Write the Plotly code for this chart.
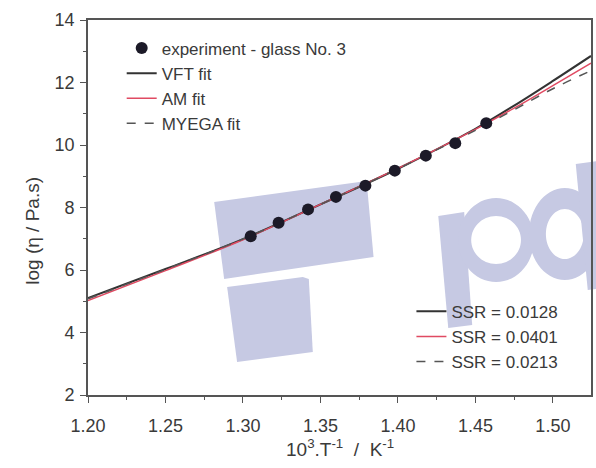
import plotly.graph_objects as go
import numpy as np

# ---------------- data ----------------
exp_x = [1.305, 1.323, 1.342, 1.360, 1.379, 1.398, 1.418, 1.437, 1.457]
exp_y = [7.08, 7.51, 7.94, 8.34, 8.70, 9.18, 9.66, 10.06, 10.70]

fit_x = [1.20, 1.25, 1.30, 1.35, 1.40, 1.45, 1.475, 1.50, 1.5246]
vft_y = [5.10, 6.03, 6.99, 8.10, 9.24, 10.52, 11.26, 12.05, 12.85]
am_y = [5.02, 5.98, 6.97, 8.10, 9.25, 10.50, 11.18, 11.90, 12.62]
myega_y = [5.08, 6.02, 6.99, 8.10, 9.24, 10.47, 11.13, 11.80, 12.38]

ssr_labels = ["SSR = 0.0128", "SSR = 0.0401", "SSR = 0.0213"]
x_ticks = [1.20, 1.25, 1.30, 1.35, 1.40, 1.45, 1.50]
x_ticktext = ["1.20", "1.25", "1.30", "1.35", "1.40", "1.45", "1.50"]
y_ticks = [2, 4, 6, 8, 10, 12, 14]

# ---------------- styles ----------------
FONT = "Liberation Sans, Arial, sans-serif"
TXT = "#3a3a3a"
AX = "#555555"
C_VFT = "#333333"
C_AM = "#e04a62"
C_MY = "#555555"
WM = "#c6c9e3"

fig = go.Figure()

fig.add_trace(go.Scatter(x=fit_x, y=vft_y, mode="lines", name="VFT fit",
                         line=dict(color=C_VFT, width=2, shape="spline"),
                         legend="legend", legendrank=2))
fig.add_trace(go.Scatter(x=fit_x, y=am_y, mode="lines", name="AM fit",
                         line=dict(color=C_AM, width=1.5, shape="spline"),
                         legend="legend", legendrank=3))
fig.add_trace(go.Scatter(x=fit_x, y=myega_y, mode="lines", name="MYEGA fit",
                         line=dict(color=C_MY, width=1.5, dash="dash", shape="spline"),
                         legend="legend", legendrank=4))
fig.add_trace(go.Scatter(x=exp_x, y=exp_y, mode="markers",
                         name="experiment - glass No. 3",
                         marker=dict(color="#1c1a28", size=12),
                         legend="legend", legendrank=1))

# SSR legend entries
for lab, col, dash in zip(ssr_labels, [C_VFT, C_AM, C_MY], ["solid", "solid", "dash"]):
    fig.add_trace(go.Scatter(x=[None], y=[None], mode="lines", name=lab,
                             line=dict(color=col, width=2 if col == C_VFT else 1.5, dash=dash),
                             legend="legend2"))

# ---------------- watermark (decoration) ----------------
L, W, H = 88.3, 505.0, 375.0


def pp(px, py):
    return (px - L) / W, (395.0 - py) / H


def poly(pts):
    s = ""
    for i, (a, b) in enumerate(pts):
        x, y = pp(a, b)
        s += ("M" if i == 0 else "L") + f"{x:.4f},{y:.4f}"
    return s + "Z"


def ring(cx, cy, rxo, ryo, rxi, ryi, n=60):
    t = np.linspace(0, 2 * np.pi, n, endpoint=False)
    outer = [(cx + rxo * np.cos(a), cy + ryo * np.sin(a)) for a in t]
    inner = [(cx + rxi * np.cos(a), cy - ryi * np.sin(a)) for a in t]
    return poly(outer) + poly(inner)


wm_paths = [
    poly([(215, 202), (368, 181), (375, 257), (225, 279)]),
    poly([(228, 287), (304, 277), (310, 279), (314, 352), (238, 362)]),
    poly([(440, 216), (466, 212), (474, 325), (450, 328)]),
    ring(498, 240, 38, 42, 25, 24),
    ring(567, 234, 36, 46, 19, 25),
    poly([(578, 164), (622, 158), (630, 285), (590, 290)]),
]
shapes = [dict(type="path", path=p, xref="paper", yref="paper", fillcolor=WM,
               line=dict(width=0), layer="below") for p in wm_paths]

# ---------------- layout ----------------
axis_common = dict(showline=True, linecolor=AX, linewidth=1.6, mirror=True,
                   ticks="outside", ticklen=6, tickwidth=1.3, tickcolor=AX,
                   showgrid=False, zeroline=False,
                   tickfont=dict(family=FONT, size=18, color=TXT))

fig.update_layout(
    width=596, height=468,
    margin=dict(l=88, r=3, t=20, b=73),
    paper_bgcolor="white", plot_bgcolor="white",
    font=dict(family=FONT, color=TXT),
    shapes=shapes,
    xaxis=dict(range=[1.20, 1.5246], tickvals=x_ticks, ticktext=x_ticktext,
               ticklabelstandoff=8,
               minor=dict(ticks="outside", ticklen=3, tickcolor=AX, dtick=0.025, tick0=1.2),
               **axis_common),
    yaxis=dict(range=[2, 14], tickvals=y_ticks, ticklabelstandoff=2,
               minor=dict(ticks="outside", ticklen=3, tickcolor=AX, dtick=1, tick0=2),
               **axis_common),
    legend=dict(x=0.067, y=0.972, xanchor="left", yanchor="top",
                bgcolor="rgba(0,0,0,0)", font=dict(family=FONT, size=17, color=TXT),
                traceorder="normal"),
    legend2=dict(x=0.643, y=0.27, xanchor="left", yanchor="top",
                 bgcolor="rgba(0,0,0,0)", font=dict(family=FONT, size=17, color=TXT),
                 traceorder="normal"),
    annotations=[
        dict(text="log (η / Pa.s)", x=-0.135, y=0.437, xref="paper", yref="paper",
             textangle=-90, showarrow=False, font=dict(family=FONT, size=19, color=TXT)),
        dict(text="10<sup>3</sup>.T<sup>-1</sup>\u00a0\u00a0/\u00a0\u00a0K<sup>-1</sup>",
             x=0.5, y=-0.14, xref="paper", yref="paper", yanchor="middle",
             showarrow=False, font=dict(family=FONT, size=19, color=TXT)),
    ],
)

fig.write_html("out.html")
